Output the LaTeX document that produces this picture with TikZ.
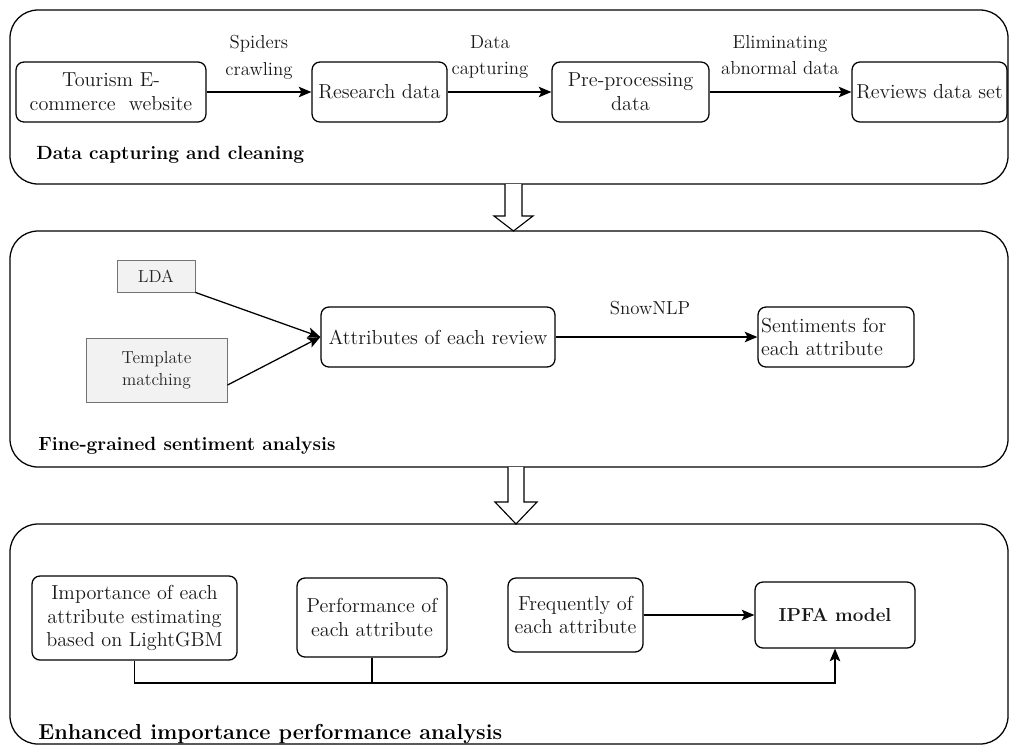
\documentclass[tikz,border=0pt]{standalone}
\usetikzlibrary{arrows.meta}

\newcommand{\px}{0.025cm}

\begin{document}
\begin{tikzpicture}[x=\px, y=-\px,
    sz/.style 2 args={minimum width=#1*\px, minimum height=#2*\px},
    box/.style={draw, rounded corners=0.2cm, line width=0.9pt, align=center, inner sep=1pt,
      text=black!90, font=\fontsize{14.4}{17}\selectfont},
    graybox/.style={draw=black!55, fill=black!5, line width=0.6pt, align=center, inner sep=1pt,
      text=black!85, font=\fontsize{12.4}{16}\selectfont},
    lbl/.style={align=center, inner sep=1pt, text=black!90, font=\fontsize{13.4}{19}\selectfont},
    title/.style={anchor=west, inner sep=0pt, text=black, font=\fontsize{13.6}{18}\selectfont\bfseries},
    panel/.style={draw, rounded corners=0.7cm, line width=0.9pt},
    arr/.style={-{Stealth[length=9pt,width=7.5pt,inset=2pt]}, line width=0.9pt},
    hollow/.style={draw, fill=white, line width=0.8pt, line join=miter}]
  \useasboundingbox (0,0) rectangle (1010,745);

  % panels
  \draw[panel] (10,10) rectangle (1008,184);
  \draw[panel] (10,231) rectangle (1008,467);
  \draw[panel] (10,524) rectangle (1008,744);
  \draw[hollow] (505,184) -- (505,216) -- (494,216) -- (513.5,231) -- (533,216) -- (522,216) -- (522,184);
  \draw[hollow] (508,467) -- (508,502) -- (495,502) -- (516,524) -- (537,502) -- (524,502) -- (524,467);

  % data capturing and cleaning
  \node[box, sz={190}{60}] (web) at (111,92) {Tourism E-\\commerce\ \ website};
  \node[box, sz={135}{60}] (research) at (379.5,92) {Research data};
  \node[box, sz={157}{60}] (preproc) at (630.5,92) {Pre-processing\\data};
  \node[box, sz={155}{60}] (reviews) at (929.5,92) {Reviews data set};
  \draw[arr] (web) -- (research);
  \draw[arr] (research) -- (preproc);
  \draw[arr] (preproc) -- (reviews);
  \node[lbl] (lspider) at (259,57) {Spiders\\crawling};
  \node[lbl] (lcapture) at (490,57) {Data\\capturing};
  \node[lbl] (lclean) at (780,55) {Eliminating\\abnormal data};
  \node[title] (t1) at (36,155) {Data capturing and cleaning};

  % fine-grained sentiment analysis
  \node[graybox, sz={78}{32}] (lda) at (156,276) {LDA};
  \node[graybox, sz={141}{64}] (tmpl) at (156.5,370) {Template\\matching};
  \node[box, sz={234}{60}] (attr) at (438,337) {Attributes of each review};
  \node[box, sz={156}{60}, text width=150*\px, align=left, inner xsep=3*\px] (senti) at (836,337) {Sentiments for\\each attribute};
  \draw[arr] (lda.south east) -- (attr.west);
  \draw[arr] (tmpl.-12) -- (attr.west);
  \draw[arr] (attr) -- (senti);
  \node[lbl] (lsnow) at (650,308) {SnowNLP};
  \node[title] (t2) at (38,446) {Fine-grained sentiment analysis};

  % enhanced importance performance analysis
  \node[box, sz={205}{84}] (imp) at (134.5,618) {Importance of each\\attribute estimating\\based on LightGBM};
  \node[box, sz={150}{79}] (perf) at (372,617.5) {Performance of\\each attribute};
  \node[box, sz={135}{74}] (freq) at (575.5,615) {Frequently of\\each attribute};
  \node[box, sz={160}{66}, font=\fontsize{13.4}{17}\selectfont\bfseries] (ipfa) at (835,615) {IPFA model};
  \coordinate (join) at (835,683);
  \draw[arr] (freq) -- (ipfa);
  \draw[arr] (imp.south) |- (join) -- (ipfa.south);
  \draw[line width=0.9pt] (perf.south) -- (perf.south |- join);
  \node[title, font=\fontsize{15.4}{18}\selectfont\bfseries] (t3) at (38,734) {Enhanced importance performance analysis};
\end{tikzpicture}
\end{document}
